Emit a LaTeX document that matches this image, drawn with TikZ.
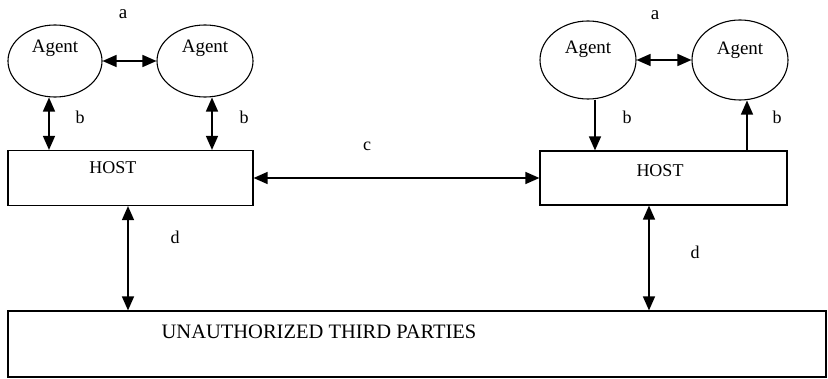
\documentclass[tikz,border=0pt]{standalone}
\usepackage{fontspec}
\setmainfont{Liberation Serif}
\usetikzlibrary{shapes.geometric,arrows.meta}
\begin{document}
\begin{tikzpicture}[x=1pt,y=1pt,
  agent/.style={draw,ellipse,line width=1.1pt,inner sep=0pt},
  hostbox/.style={draw,rectangle,line width=1.2pt,inner sep=0pt},
  txt/.style={inner sep=0pt,font=\fontsize{19}{22}\selectfont},
  lbl/.style={inner sep=0pt,font=\fontsize{18}{21}\selectfont},
  tip/.style={-{Triangle[length=14pt,width=12pt]},line width=1.4pt},
  both/.style={{Triangle[length=14pt,width=12pt]}-{Triangle[length=14pt,width=12pt]},line width=1.4pt}]
\useasboundingbox (0,0) rectangle (828,378);

% agents
\node[agent,minimum width=94pt,minimum height=72pt] (A1) at (55,317) {};
\node[agent,minimum width=96pt,minimum height=72pt] (A2) at (205,317) {};
\node[agent,minimum width=96pt,minimum height=78pt] (A3) at (588,318) {};
\node[agent,minimum width=96pt,minimum height=80pt] (A4) at (740,318) {};
\node[txt] (t1) at (55,330) {Agent};
\node[txt] (t2) at (205,330) {Agent};
\node[txt] (t3) at (588,329) {Agent};
\node[txt] (t4) at (740,328) {Agent};

% hosts and third parties
\node[hostbox,minimum width=245pt,minimum height=55pt] (H1) at (130.5,200) {};
\node[hostbox,minimum width=247pt,minimum height=54pt] (H2) at (663.5,200) {};
\node[hostbox,minimum width=818pt,minimum height=66pt] (U) at (417,34) {};
\node[txt,font=\fontsize{18}{21}\selectfont] (h1) at (113,210) {HOST};
\node[txt,font=\fontsize{18}{21}\selectfont] (h2) at (660,207) {HOST};
\node[txt,font=\fontsize{20.5}{24}\selectfont] (u) at (319,46) {UNAUTHORIZED THIRD PARTIES};

% link labels
\node[lbl,font=\fontsize{19}{22}\selectfont] (la1) at (123,364) {a};
\node[lbl,font=\fontsize{19}{22}\selectfont] (la2) at (655,363) {a};
\node[lbl] (lb1) at (80,261) {b};
\node[lbl] (lb2) at (244,261) {b};
\node[lbl] (lb3) at (627,261) {b};
\node[lbl] (lb4) at (777,261) {b};
\node[lbl] (lc) at (367,232) {c};
\node[lbl] (ld1) at (175,141) {d};
\node[lbl] (ld2) at (695,126) {d};

% x positions of the vertical links
\coordinate (x1) at (49,0);
\coordinate (x2) at (212,0);
\coordinate (x3) at (595,0);
\coordinate (x4) at (747,0);
\coordinate (x5) at (128,0);
\coordinate (x6) at (649,0);

% connectors
\draw[both] (A1.east) -- (A2.west);
\draw[both] (A3.east) -- (A4.west);
\draw[both] (A1.south -| x1) -- (H1.north -| x1);
\draw[both] (A2.south -| x2) -- (H1.north -| x2);
\draw[tip] (A3.south -| x3) -- (H2.north -| x3);
\draw[tip] (H2.north -| x4) -- (A4.south -| x4);
\draw[both] (H1.east) -- (H2.west);
\draw[both] (H1.south -| x5) -- (U.north -| x5);
\draw[both] (H2.south -| x6) -- (U.north -| x6);
\end{tikzpicture}
\end{document}
